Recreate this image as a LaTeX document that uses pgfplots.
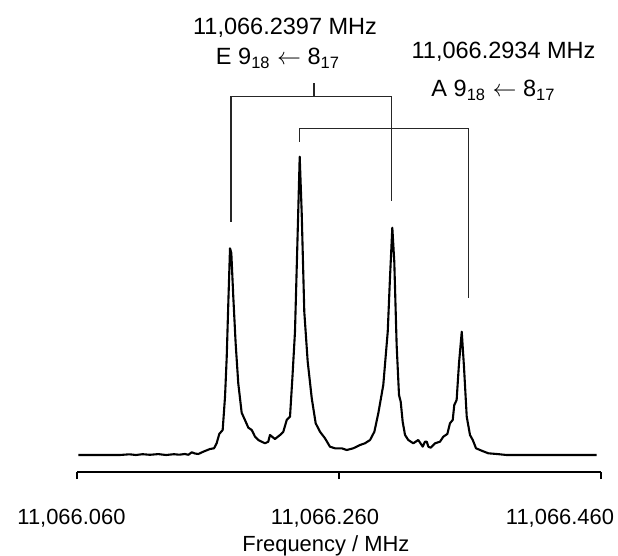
\documentclass[border=0pt]{standalone}
\usepackage{pgfplots}
\pgfplotsset{compat=1.18}
\usepackage{fontspec}
\setmainfont{Liberation Sans}

% spectrum: x = kHz above 11,066 MHz, y = intensity (arb.)
\pgfplotstableread{
x y
61.0 0
92.8 0
100 0.7
105 0
110 0.8
115.7 0.2
122 0.9
128 0
134 0.8
138 0.3
142.4 1
145 0.2
147.6 2.7
150 1.5
152.6 1
156.4 3.3
161.5 6
164.6 6.7
166.6 11.7
168.6 21
171.2 25
173.0 58.3
174.3 98.3
175.5 151.7
176.8 206.7
177.8 202
179.3 158.3
181.1 111.7
183.1 71.7
185.7 42.3
188.2 35
190.8 27.3
193.4 25
195.9 18.3
198.4 15
201.0 13.3
203.5 11.7
206.0 13.3
207.3 20
211.1 16
215.0 20
217.5 23.3
220.1 35
222.6 38.3
224.4 76.7
226.4 123.3
228.2 210
230.0 298.3
231.5 243.3
233.5 143.3
236.1 93.3
239.2 56.7
242.2 31.7
245.5 23.3
249.3 16.7
253.1 8.3
257.0 6.7
262.1 6.7
265.9 5
270.9 6.7
276.0 10
279.8 11.7
283.7 15
287.0 23.3
290.0 41.7
293.8 70
297.2 123.3
298.9 176.7
300.7 227.3
302.2 193.3
304.0 110
305.8 60
307.1 53.3
308.6 33.3
310.4 20
312.9 15
316.7 11.7
320.5 15
323.1 10
323.9 8.3
325.6 13.3
327.0 13.3
328.2 8.3
330.0 7.3
333.3 11.7
337.1 13.3
339.6 18.3
342.7 21
344.7 31.7
346.8 35
348.0 50
349.8 55
351.6 91.7
353.7 123.3
355.4 88.3
357.5 38.3
360.0 20
362.1 15
364.6 6.7
368.9 4.3
374.0 1.7
380.4 1
388.0 0
395.7 0
456.7 0
}\spectrum

\begin{document}
\fontsize{11}{13}\selectfont
\begin{tikzpicture}
\begin{axis}[
    scale only axis,
    width=262bp, height=235.85bp,
    xmin=60, xmax=460,
    ymin=-16.7, ymax=455,
    axis x line*=bottom,
    axis y line=none,
    axis line style={line width=1bp},
    xtick={60,260,460},
    xticklabels={
      {\makebox[0pt]{\hspace*{-5.5bp}11,066.060}},
      {\makebox[0pt]{\hspace*{-14bp}11,066.260}},
      {\makebox[0pt]{\hspace*{-41bp}11,066.460}}},
    tick align=outside,
    major tick length=3.7bp,
    tick style={line width=1bp, black},
    x tick label style={anchor=base, yshift=-22.8bp, inner sep=0pt},
    every tick label/.append style={font=\fontsize{11}{13}\selectfont},
    xlabel={Frequency / MHz},
    xlabel style={at={(axis description cs:0.475,0)}, anchor=base,
                  yshift=-40bp, inner sep=0pt, font=\fontsize{11}{13}\selectfont},
    clip=false,
]
\addplot[black, line width=1.05bp, line join=round] table[x=x, y=y] {\spectrum};

% E doublet bracket
\draw[line width=0.65bp, black!85] (axis cs:177.5,233) -- (axis cs:177.5,358.3)
    -- (axis cs:300.3,358.3) -- (axis cs:300.3,254);
\draw[line width=0.65bp, black!85] (axis cs:240.9,358.3) -- (axis cs:240.9,372.3);
% A doublet bracket
\draw[line width=0.65bp, black!85] (axis cs:229.6,313) -- (axis cs:229.6,326.7)
    -- (axis cs:359.0,326.7) -- (axis cs:359.0,157.3);

\begin{scope}[every node/.style={anchor=base, inner sep=0pt, font=\fontsize{11.8}{14}\selectfont}]
\node at (axis cs:218.8,420) {11,066.2397 MHz};
\node at (axis cs:213.4,390) {E 9\textsubscript{18} $\leftarrow$ 8\textsubscript{17}};
\node at (axis cs:385.6,396) {11,066.2934 MHz};
\node at (axis cs:377.9,358) {A 9\textsubscript{18} $\leftarrow$ 8\textsubscript{17}};
\end{scope}
\end{axis}
\pgfresetboundingbox
\path[use as bounding box] (-38.5bp,-42.15bp) rectangle (270.5bp,235.85bp);
\end{tikzpicture}
\end{document}
